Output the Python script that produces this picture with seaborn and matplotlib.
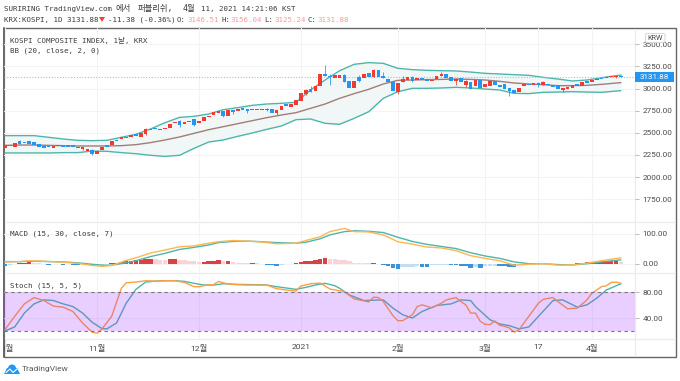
import seaborn as sns
import matplotlib.pyplot as plt
from matplotlib.patches import Rectangle, FancyBboxPatch, Polygon, Ellipse

# candles, one entry per trading day
opens = [2325, 2358, 2343, 2407, 2400, 2411, 2396, 2370, 2355, 2355,
         2325, 2351, 2351, 2362, 2362, 2325, 2317, 2298, 2310, 2261,
         2306, 2362, 2362, 2419, 2434, 2449, 2456, 2483, 2456, 2486,
         2547, 2550, 2532, 2539, 2550, 2607, 2633, 2603, 2622, 2652,
         2607, 2633, 2674, 2701, 2727, 2742, 2693, 2754, 2746, 2776,
         2765, 2757, 2761, 2761, 2757, 2765, 2720, 2754, 2821, 2795,
         2810, 2863, 2934, 2994, 2976, 3032, 3164, 3145, 3122, 3122,
         3152, 3085, 3002, 3134, 3122, 3171, 3134, 3205, 3145, 3107,
         3077, 2957, 3070, 3100, 3130, 3092, 3119, 3107, 3085, 3103,
         3145, 3160, 3130, 3085, 3115, 3040, 3070, 3024, 3092, 3021,
         3032, 3085, 3040, 3047, 3002, 2983, 2960, 3028, 3055, 3043,
         3066, 3043, 3055, 3036, 3040, 2987, 2991, 3009, 3051, 3028,
         3081, 3070, 3100, 3122, 3119, 3126, 3130, 3146.51]
closes = [2362, 2350, 2381, 2377, 2389, 2377, 2362, 2343, 2328, 2340,
          2351, 2366, 2336, 2340, 2336, 2340, 2343, 2317, 2261, 2298,
          2343, 2343, 2407, 2404, 2449, 2437, 2479, 2464, 2494, 2539,
          2532, 2539, 2543, 2550, 2599, 2618, 2588, 2626, 2633, 2584,
          2633, 2678, 2693, 2731, 2742, 2690, 2757, 2738, 2772, 2761,
          2746, 2769, 2769, 2769, 2769, 2727, 2757, 2802, 2802, 2821,
          2870, 2945, 2983, 2957, 3028, 3160, 3141, 3134, 3149, 3152,
          3077, 3002, 3088, 3088, 3160, 3134, 3209, 3134, 3115, 3070,
          2976, 3058, 3107, 3130, 3085, 3119, 3092, 3081, 3100, 3145,
          3164, 3115, 3088, 3107, 3077, 3085, 2994, 3096, 3009, 3047,
          3085, 3040, 3013, 2991, 2976, 2953, 3009, 3051, 3043, 3062,
          3036, 3073, 3036, 3021, 2998, 3002, 3017, 3036, 3028, 3070,
          3058, 3092, 3111, 3111, 3130, 3137, 3145, 3131.88]

# the wicks long enough to see
wick_days = [3, 16, 18, 29, 36, 39, 45, 47, 50, 54, 56, 62, 63, 66, 67, 70, 73,
             76, 78, 81, 82, 84, 90, 93, 95, 104, 110, 111, 115, 126, 127]
wick_highs = [2415, 2345, 2320, 2550, 2640, 2660, 2750, 2760, 2770, 2775, 2760, 3000, 3028, 3265, 3164, 3165, 3150,
              3215, 3190, 3060, 3145, 3140, 3190, 3115, 3100, 3010, 3070, 3085, 3010, 3155, 3156.04]
wick_lows = [2370, 2305, 2250, 2480, 2570, 2575, 2680, 2715, 2725, 2745, 2705, 2930, 2957, 3141, 3040, 3070, 3075,
             3134, 3115, 2938, 3070, 3075, 3145, 3040, 3013, 2919, 3021, 3040, 2960, 3115, 3125.24]

# bollinger bands
band_days = [0, 3, 6, 9, 12, 15, 18, 21, 24, 27, 30, 33, 36, 39, 42, 45, 48, 51, 54, 57, 60, 63,
             66, 69, 72, 75, 78, 81, 84, 87, 90, 93, 96, 99, 102, 105, 108, 111, 114, 117, 120, 123, 127]
bb_upper = [2468, 2468, 2468, 2449, 2430, 2415, 2411, 2415, 2449, 2483, 2543, 2614, 2674, 2686, 2712, 2761,
            2784, 2810, 2825, 2833, 2844, 2983, 3096, 3201, 3273, 3292, 3284, 3228, 3213, 3205, 3201, 3198,
            3186, 3171, 3164, 3156, 3149, 3126, 3107, 3085, 3096, 3122, 3152]
bb_lower = [2272, 2272, 2272, 2272, 2276, 2276, 2294, 2291, 2276, 2264, 2246, 2234, 2246, 2325, 2396, 2419,
            2460, 2498, 2539, 2577, 2648, 2656, 2607, 2596, 2663, 2738, 2889, 2964, 3002, 3002, 3006, 3013,
            3006, 2994, 2983, 2945, 2942, 2957, 2960, 2964, 2960, 2957, 2976]
bb_basis = [2358, 2362, 2362, 2358, 2355, 2351, 2351, 2351, 2355, 2366, 2389, 2419, 2453, 2494, 2535, 2569,
            2603, 2637, 2671, 2701, 2727, 2776, 2825, 2889, 2942, 2991, 3051, 3092, 3096, 3100, 3103, 3107,
            3103, 3096, 3081, 3062, 3051, 3043, 3032, 3032, 3036, 3047, 3066]

# macd
macd_days = [0, 3, 5, 7, 12, 15, 18, 20, 22, 25, 27, 30, 33, 36, 39, 42, 44, 47, 50, 53, 56, 60, 62, 65, 67, 70,
             72, 75, 78, 81, 84, 87, 90, 93, 96, 99, 102, 105, 108, 111, 114, 117, 120, 123, 127]
macd_line = [6, 7, 10, 9, 5, 1, -6, -9, -6, 11, 20, 36, 46, 57, 60, 69, 74, 78, 76, 73, 67, 69, 78, 91, 108, 119,
             108, 107, 97, 74, 66, 56, 53, 44, 27, 18, 10, -5, -2, 0, -5, -4, 2, 10, 20]
signal_line = [7, 7, 8, 8, 6, 3, -2, -5, -5, 3, 10, 24, 35, 48, 55, 63, 71, 75, 76, 74, 71, 69, 72, 84, 97, 108,
               111, 109, 105, 89, 75, 65, 58, 51, 37, 26, 18, 6, 0, 0, -3, -4, 0, 6, 13]
macd_hist = [-7, -6, -2, 1, 3, 5, 3, 1, -1, -3,
             -2, -1, -3, -2, -4, -5, -2, -1, -3, -4,
             -3, -1, 1, 4, 6, 8, 10, 12, 13, 15,
             16, 15, 14, 13, 15, 16, 13, 11, 9, 8,
             6, 7, 8, 9, 11, 9, 10, 5, 4, 3,
             2, 2, 1, -1, -3, -6, -7, -3, -2, -1,
             3, 5, 8, 10, 12, 17, 19, 17, 15, 14,
             13, 10, 3, 2, 1.5, 1, 3, -2, -4, -8,
             -15, -17, -12, -11, -10, -9, -11, -12, -6, -5,
             -4, -3, -5, -6, -7, -9, -13, -11, -13, -9,
             -8, -7, -8, -9, -10, -12, -6, -3, -1, 0,
             1, 1, 0.5, -1, -1.5, -1, -1, 0, 1, 3,
             5, 6, 7, 8, 8.5, 9, 9.5, 7]

# stochastic
k_days = [0, 2, 4, 6, 8, 10, 12, 14, 16, 18, 19, 20, 22, 24, 25, 27, 29, 31, 33, 35, 37, 39, 40, 42, 43, 44, 46,
          48, 50, 52, 54, 56, 58, 60, 61, 63, 65, 67, 70, 72, 75, 76, 77, 78, 80, 81, 82, 84, 85, 86, 88, 90, 91,
          93, 94, 95, 96, 97, 98, 99, 100, 101, 102, 103, 104, 105, 106, 108, 110, 111, 113, 114, 116, 118, 120,
          121, 123, 124, 125, 126, 127]
stoch_k = [22, 42.6, 62, 71.8, 67.2, 58.5, 56.9, 50.2, 32.3, 17.9, 16.4, 23.1, 42.6, 86.2, 94.9, 95.9, 98, 97.4,
           98, 98, 95.4, 88.7, 88.7, 91.8, 91.8, 96.9, 92.8, 91.8, 91.3, 91.3, 91.3, 85.6, 83.6, 82, 89.7, 93.3,
           94.4, 85.1, 81, 69.7, 65.1, 72.3, 71.8, 65.6, 43.6, 35.9, 35.9, 45.1, 57.9, 60.5, 55.9, 63.1, 68.2,
           71.8, 65.6, 60.5, 47.7, 47.7, 34.9, 30.2, 29.7, 35.4, 28.7, 27.2, 24.6, 17.9, 22, 42.6, 63.1, 69.2,
           71.8, 65.6, 54.4, 55.4, 68.2, 78.5, 88.7, 90.3, 95.4, 95.9, 93.9]
d_days = [0, 2, 4, 6, 8, 10, 12, 14, 16, 18, 20, 21, 23, 25, 27, 29, 31, 33, 35, 37, 39, 41, 43, 45, 48, 52, 54,
          56, 58, 60, 62, 64, 66, 68, 69, 71, 74, 78, 80, 82, 84, 86, 89, 92, 94, 96, 97, 100, 102, 104, 106, 108,
          110, 113, 115, 118, 120, 122, 124, 127]
stoch_d = [20, 26.1, 47.7, 62, 68.2, 67.2, 62, 57.9, 47.7, 33.3, 23.6, 23.1, 32.3, 63.1, 84.6, 95.9, 97.4, 98,
           98, 97, 93.9, 91.3, 91.3, 93.3, 92.3, 91.8, 91.3, 88.7, 86.7, 84.6, 87.6, 91.3, 93.9, 90.3, 86.2, 75.9,
           67.2, 68.2, 55.4, 45.1, 40, 50.2, 59.5, 62, 68.2, 67.2, 57.9, 37.4, 30.8, 28.2, 23.1, 26.1, 42.6, 67.2,
           68.2, 56.9, 60.5, 70.8, 83.6, 93.3]

last_price = 3131.88
price_ticks = [3500, 3250, 3000, 2750, 2500, 2250, 2000, 1750]
macd_ticks = [100, 0]
stoch_ticks = [80, 40]
month_days = [0, 19, 40, 61, 81, 99, 110, 121]
month_labels = ['10월', '11월', '12월', '2021', '2월', '3월', '17', '4월']

W, H = 680, 381
RED = '#f23a32'
BLUE = '#2196f3'
TEAL = '#4db6ac'
ORANGE = '#ffb74d'
GREY = '#4a4a4a'
MONO = ['DejaVu Sans Mono', 'Noto Sans CJK KR']
SANS = ['Roboto', 'Noto Sans CJK KR']

sns.set_style('white')
plt.rcParams['font.family'] = SANS

fig = plt.figure(figsize=(W / 100, H / 100), dpi=100)


def pane(x0, y0, x1, y1):
    ax = fig.add_axes([x0 / W, 1 - y1 / H, (x1 - x0) / W, (y1 - y0) / H])
    ax.patch.set_alpha(0)
    for spine in ax.spines.values():
        spine.set_visible(False)
    ax.set_xlim(-0.2, 129.9)
    ax.set_xlabel('')
    ax.set_ylabel('')
    return ax


def finishPane(ax, ylim, ticks):
    ax.set_xlim(-0.2, 129.9)
    ax.set_ylim(*ylim)
    ax.set_xlabel('')
    ax.set_ylabel('')
    ax.set_xticks(month_days)
    ax.set_xticklabels([])
    ax.set_yticks(ticks)
    ax.set_yticklabels(['%.2f' % t for t in ticks])
    ax.yaxis.tick_right()
    ax.tick_params(axis='y', length=3, width=0.7, color='#bbbbbb', labelsize=5.9, labelcolor=GREY, pad=2.5)
    ax.tick_params(axis='x', length=0)
    ax.grid(True, color='#f4f4f4', linewidth=0.8)
    ax.set_axisbelow(True)


# overlay in pixels for frame and header, drawn under the panes
canvas = fig.add_axes([0, 0, 1, 1], zorder=0)
canvas.set_xlim(0, W)
canvas.set_ylim(H, 0)
canvas.axis('off')

axPrice = pane(4, 28, 635, 222)
axMacd = pane(4, 222, 635, 273)
axStoch = pane(4, 273, 635, 339)
axTime = pane(4, 339, 635, 357)

# price pane
axPrice.fill_between(band_days, bb_lower, bb_upper, color='#f0f7f6', zorder=1, linewidth=0)
sns.lineplot(x=band_days, y=bb_upper, ax=axPrice, color=TEAL, linewidth=1.0, legend=False, zorder=2)
sns.lineplot(x=band_days, y=bb_lower, ax=axPrice, color=TEAL, linewidth=1.0, legend=False, zorder=2)
sns.lineplot(x=band_days, y=bb_basis, ax=axPrice, color='#a47c78', linewidth=1.0, legend=False, zorder=2)
axPrice.axhline(last_price, color='#8cc8f5', linewidth=0.8, linestyle=(0, (1, 1.5)), zorder=2)
days = list(range(len(opens)))
candle_colors = [RED if c >= o else BLUE for o, c in zip(opens, closes)]
wick_colors = [candle_colors[d] for d in wick_days]
axPrice.vlines(wick_days, wick_lows, wick_highs, colors=wick_colors, linewidth=0.7, alpha=0.8, zorder=3)
axPrice.bar(days, [abs(c - o) for o, c in zip(opens, closes)], bottom=[min(o, c) for o, c in zip(opens, closes)],
            width=0.76, color=candle_colors, linewidth=0, zorder=4)
finishPane(axPrice, (1493, 3683), price_ticks)

# macd pane
hist_types = []
for i, v in enumerate(macd_hist):
    prev = macd_hist[i - 1] if i else v
    if v >= 0:
        hist_types.append('up' if v >= prev else 'up_fade')
    else:
        hist_types.append('down' if v <= prev else 'down_fade')
hist_palette = {'up': '#f0292a', 'up_fade': '#ffcdd2', 'down': '#2196f3', 'down_fade': '#bbdefb'}
sns.barplot(x=days, y=macd_hist, hue=hist_types, palette=hist_palette, ax=axMacd, native_scale=True,
            dodge=False, legend=False, width=0.92, linewidth=0, zorder=2, errorbar=None)
sns.lineplot(x=macd_days, y=signal_line, ax=axMacd, color=TEAL, linewidth=1.0, legend=False, zorder=3)
sns.lineplot(x=macd_days, y=macd_line, ax=axMacd, color=ORANGE, linewidth=1.0, legend=False, zorder=3)
finishPane(axMacd, (-31.3, 140.4), macd_ticks)

# stochastic pane, the band lies over the lines
sns.lineplot(x=d_days, y=stoch_d, ax=axStoch, color=TEAL, linewidth=1.0, legend=False, zorder=2)
sns.lineplot(x=k_days, y=stoch_k, ax=axStoch, color='#ffa040', linewidth=1.0, legend=False, zorder=2)
axStoch.axhspan(20, 80, facecolor=(0.6, 0.15, 1.0, 0.22), edgecolor='none', zorder=3)
axStoch.axhline(80, color='#787878', linewidth=0.8, linestyle=(0, (3, 3)), zorder=4)
axStoch.axhline(20, color='#787878', linewidth=0.8, linestyle=(0, (3, 3)), zorder=4)
finishPane(axStoch, (7.4, 110), stoch_ticks)

# time axis
axTime.set_ylim(0, 1)
axTime.set_yticks([])
axTime.set_xticks(month_days)
axTime.set_xticklabels(month_labels)
axTime.tick_params(axis='x', length=0, pad=-9.5, labelsize=6.1, labelcolor=GREY)
axTime.grid(False)
first_label = axTime.get_xticklabels()[0]
first_label.set_clip_on(True)
first_label.set_clip_box(axTime.bbox)

# frame and separators
canvas.add_patch(Rectangle((4, 28), 672, 329, fill=False, edgecolor='#666666', linewidth=1.0))
canvas.plot([4, 4], [28, 357], color='#666666', linewidth=1.4)
for y in [222, 273, 339]:
    canvas.plot([5, 675], [y, y], color='#ececec', linewidth=1.0)
canvas.plot([635, 635], [29, 356], color='#ececec', linewidth=1.0)

# last price tag, currency box and pane titles sit on top of everything
top = fig.add_axes([0, 0, 1, 1], zorder=5)
top.set_xlim(0, W)
top.set_ylim(H, 0)
top.axis('off')


def label(x, y, s, color='#3c3c3c', size=5.4, family=MONO, **kw):
    top.text(x, y, s, color=color, fontsize=size, family=family, va='center', **kw)


# header
SOFT_RED = '#ff9a9a'
label(4, 9, 'SURIRING TradingView.com')
label(115, 9, '에서', size=6)
label(138, 9, '퍼블리쉬,', size=6)
label(183, 9, '4월', size=6)
label(201, 9, '11, 2021 14:21:06 KST')
label(4, 20, 'KRX:KOSPI, 1D 3131.88')
top.add_patch(Polygon([[99, 17], [105, 17], [102, 22]], closed=True, color='#f44336', linewidth=0))
label(108, 20, '-11.38 (-0.36%)')
for x, name in [(177, 'O:'), (221, 'H:'), (264, 'L:'), (308, 'C:')]:
    label(x, 20, name)
for x, val in [(187, '3146.51'), (230, '3156.04'), (274, '3125.24'), (317, '3131.88')]:
    label(x, 20, val, color=SOFT_RED)

# pane titles
label(10, 40, 'KOSPI COMPOSITE INDEX, 1날, KRX')
label(10, 51, 'BB (20, close, 2, 0)')
label(10, 234, 'MACD (15, 30, close, 7)')
label(10, 286, 'Stoch (15, 5, 5)')

top.add_patch(Rectangle((635, 72), 39, 10, color=BLUE, linewidth=0))
top.text(654.5, 77, '3131.88', color='white', fontsize=5.9, ha='center', va='center')
top.add_patch(FancyBboxPatch((645.5, 33.5), 19.5, 9, boxstyle='round,pad=0,rounding_size=1.5',
                             facecolor='white', edgecolor='#d6d6d6', linewidth=0.7))
top.text(655.2, 38, 'KRW', color=GREY, fontsize=5.2, ha='center', va='center')

# footer logo
top.add_patch(Ellipse((12, 368.5), 8, 8, color=BLUE, linewidth=0))
top.add_patch(Polygon([[4, 374], [7, 368], [17, 368], [20, 374]], closed=True, color=BLUE, linewidth=0))
top.plot([6, 10, 13, 17], [372.5, 369, 372.5, 369], color='white', linewidth=0.8)
top.text(22, 369, 'TradingView', color='#5a5a5a', fontsize=6.0, va='center')

fig.savefig('out.png', dpi=100)
